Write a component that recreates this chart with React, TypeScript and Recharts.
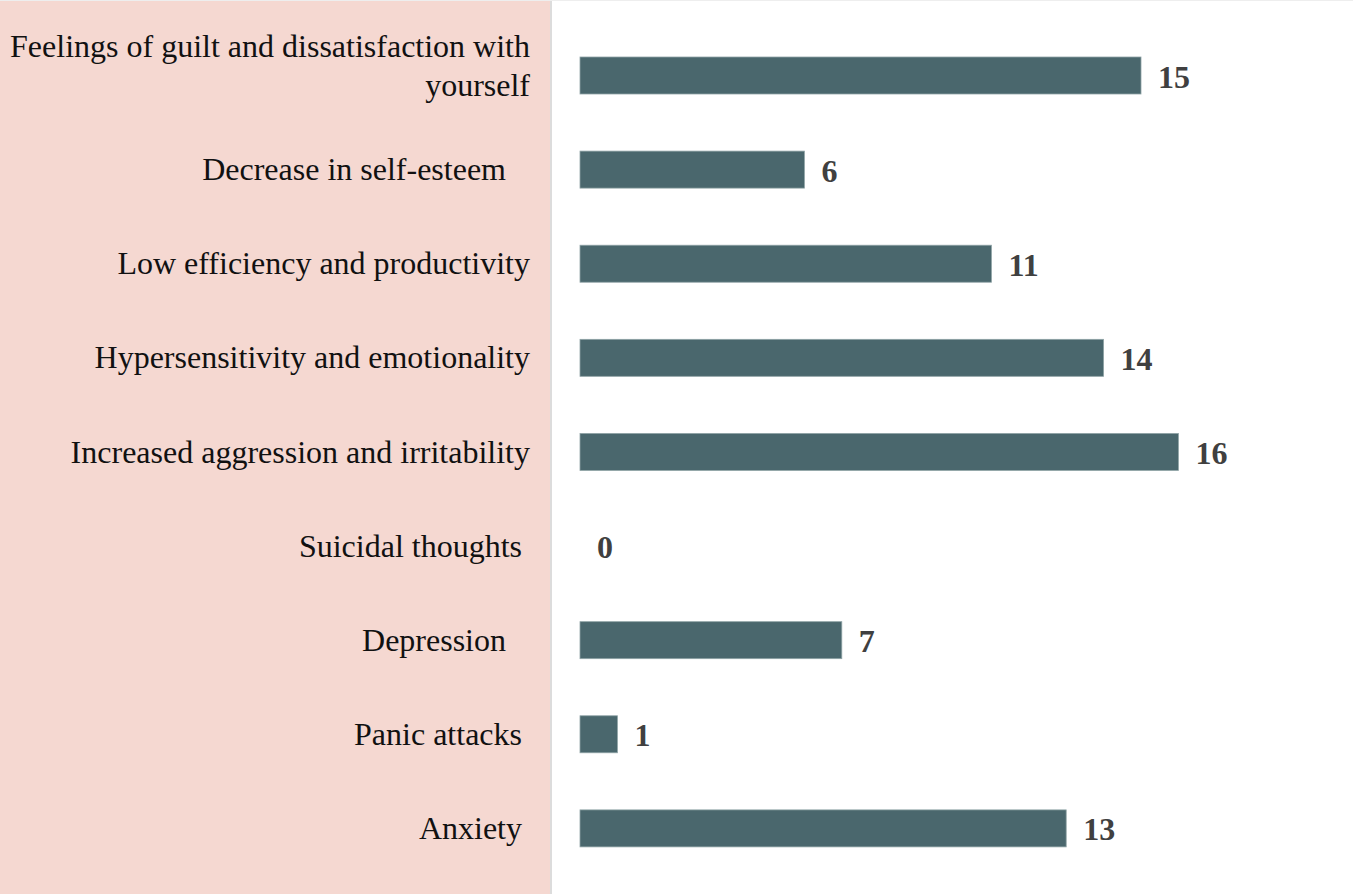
import React from "react";
import { BarChart, Bar, XAxis, YAxis } from "recharts";

// symptoms, top to bottom
const symptoms = [
  "Feelings of guilt and dissatisfaction with\nyourself",
  "Decrease in self-esteem   ",
  "Low efficiency and productivity",
  "Hypersensitivity and emotionality",
  "Increased aggression and irritability",
  "Suicidal thoughts ",
  "Depression   ",
  "Panic attacks ",
  "Anxiety ",
];
const counts = [15, 6, 11, 14, 16, 0, 7, 1, 13];
const xDomain = [0, 20];

const data = symptoms.map((name, i) => ({ name, count: counts[i] }));

const FONT = "'Liberation Serif', 'Times New Roman', serif";
const BAR_COLOR = "#4a676d";
const PANEL = "#f5d8d1";

const SymptomTick = (props: any) => {
  const { y, payload } = props;
  const lines = String(payload.value).split("\n");
  const lineH = 39;
  // wrapped labels sit a bit higher than the bar centre
  const startY = lines.length > 1 ? y - 29 : y;
  return (
    <text
      x={530}
      y={startY}
      textAnchor="end"
      dominantBaseline="central"
      fontFamily={FONT}
      fontSize={32}
      fill="#111"
      style={{ whiteSpace: "pre" }}
    >
      {lines.map((l, i) => (
        <tspan key={i} x={530} dy={i === 0 ? 0 : lineH}>
          {l}
        </tspan>
      ))}
    </text>
  );
};

// bar plus its value, so a zero bar still shows "0"
const BarWithValue = (props: any) => {
  const { x, y, width, height, value } = props;
  const v = Array.isArray(value) ? value[1] - value[0] : value;
  return (
    <g>
      {width > 0 && (
        <rect
          x={x}
          y={y}
          width={width}
          height={height}
          fill={BAR_COLOR}
          stroke="#8fa3a6"
          strokeWidth={0.8}
        />
      )}
      <text
        x={x + Math.max(width, 0) + 17}
        y={y + height / 2 + 1}
        dominantBaseline="central"
        fontFamily={FONT}
        fontSize={32}
        fontWeight="bold"
        fill="#404040"
      >
        {v}
      </text>
    </g>
  );
};

export default function App() {
  return (
    <div
      style={{
        position: "absolute",
        top: 0,
        left: 0,
        width: 1353,
        height: 894,
        background: "#fff",
        borderTop: "1px solid #eeeeee",
        boxSizing: "border-box",
      }}
    >
      <div
        style={{
          position: "absolute",
          top: 0,
          left: 0,
          width: 550,
          height: 894,
          background: PANEL,
          borderRight: "2px solid #dcdcdc",
        }}
      />
      <div style={{ position: "absolute", top: 0, left: 0 }}>
        <BarChart
          width={1353}
          height={894}
          data={data}
          layout="vertical"
          margin={{ top: 27, right: 25, bottom: 20, left: 0 }}
          barCategoryGap={0}
        >
          <XAxis type="number" domain={xDomain} hide />
          <YAxis
            type="category"
            dataKey="name"
            width={580}
            axisLine={false}
            tickLine={false}
            tick={<SymptomTick />}
            interval={0}
          />
          <Bar
            dataKey="count"
            fill={BAR_COLOR}
            barSize={37}
            shape={<BarWithValue />}
            isAnimationActive={false}
          />
        </BarChart>
      </div>
    </div>
  );
}
